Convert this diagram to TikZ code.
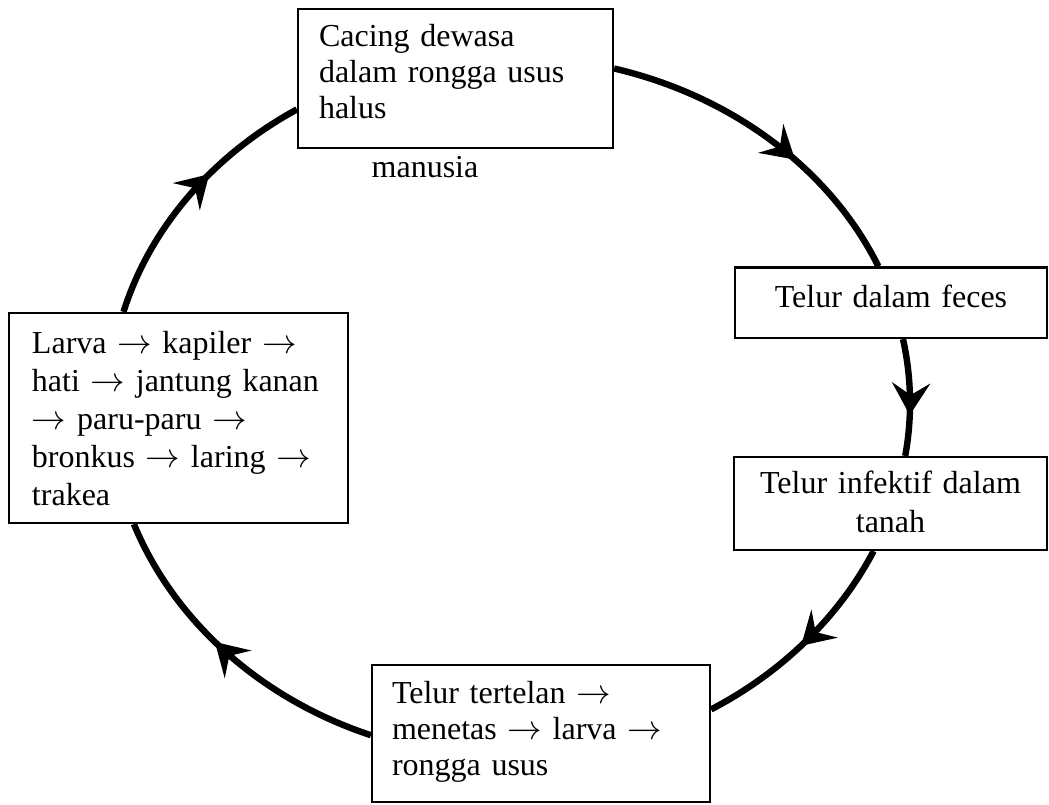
\documentclass[tikz,border=0pt]{standalone}
\usepackage{fontspec}
\setmainfont{Liberation Serif}
\usetikzlibrary{arrows.meta,decorations.markings}
\newcommand{\ar}{$\rightarrow$}
\begin{document}
\begin{tikzpicture}[x=0.5pt,y=-0.5pt,
  box/.style={draw, line width=1.1pt, fill=white, inner sep=0pt, text height=11pt},
  fnt/.style={font=\fontsize{16}{#1}\selectfont},
  cyc/.style={line width=3.2pt, postaction={decorate, decoration={markings, mark=at position #1 with {\arrow{Stealth[length=16pt,width=19pt,inset=6pt]}}}}}
]
\useasboundingbox (0,0) rectangle (1049,804);

\node[box, fnt=18pt, minimum width=157.5pt, minimum height=69.5pt, text width=136.5pt, align=left, text depth=42.8pt] (adult) at (455.5,78.5) {Cacing dewasa\\dalam rongga usus\\halus};
\node[fnt=18pt, anchor=base, inner sep=0pt] (host) at (425,177) {manusia};

\node[box, fnt=18pt, minimum width=156pt, minimum height=35.25pt, text width=150pt, align=center, text depth=6.75pt] (feces) at (891,302.75) {Telur dalam feces};

\node[box, fnt=19.5pt, minimum width=156.5pt, minimum height=46.5pt, text width=150pt, align=center, text depth=21.5pt] (infektif) at (890.5,503.5) {Telur infektif dalam\\tanah};

\node[box, fnt=18pt, minimum width=169pt, minimum height=68.5pt, text width=149pt, align=left, text depth=41.5pt] (swallow) at (541,733.5) {Telur tertelan \ar\\menetas \ar{} larva \ar\\rongga usus};

\node[box, fnt=19pt, minimum width=169.5pt, minimum height=105pt, text width=146.5pt, align=left, text depth=76pt] (larva) at (178.5,418) {Larva \ar{} kapiler \ar\\hati \ar{} jantung kanan\\\ar{} paru-paru \ar\\bronkus \ar{} laring \ar\\trakea};

\draw[cyc=0.6] ([yshift=5pt]adult.east) .. controls (732.3,96.0) and (830.2,169.4) .. ([xshift=-6.3pt]feces.north);
\draw[cyc=0.65] ([xshift=6pt]feces.south) .. controls (911.5,377.3) and (912.3,417.5) .. ([xshift=7.35pt]infektif.north);
\draw[cyc=0.52] ([xshift=-8.45pt]infektif.south) .. controls (839.0,616.9) and (781.8,672.6) .. ([yshift=12.05pt]swallow.east);
\draw[cyc=0.56] ([yshift=-0.85pt]swallow.west) .. controls (261.3,699.1) and (174.1,621.4) .. ([xshift=-22.3pt]larva.south);
\draw[cyc=0.6] ([xshift=-27.5pt]larva.north) .. controls (149.7,228.5) and (212.0,155.7) .. ([yshift=-15.45pt]adult.west);
\end{tikzpicture}
\end{document}
